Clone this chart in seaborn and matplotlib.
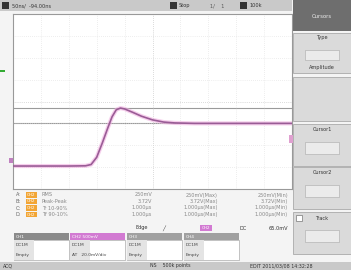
import matplotlib
matplotlib.use('Agg')
import matplotlib.pyplot as plt
import seaborn as sns
import pandas as pd
from matplotlib.patches import Rectangle

# trace (time in div, level in div from bottom)
t_div = [0, 1, 2, 2.6, 2.8, 3.0, 3.2, 3.4, 3.55, 3.7, 3.85, 4.0, 4.3, 4.6, 5.0, 5.4, 5.8, 6.5, 8, 10]
v_div = [1.05, 1.05, 1.05, 1.06, 1.12, 1.45, 2.1, 2.8, 3.3, 3.62, 3.7, 3.66, 3.5, 3.33, 3.16, 3.06, 3.02, 3.0, 3.0, 3.0]
cursor_levels = [3.7, 3.0]

meas_ids = ['A:', 'B:', 'C:', 'D:']
meas_names = ['RMS', 'Peak-Peak', 'Tr 10-90%', 'Tf 90-10%']
meas_vals = ['250mV', '3.72V', '1.000μs', '1.000μs']
meas_max = ['250mV(Max)', '3.72V(Max)', '1.000μs(Max)', '1.000μs(Max)']
meas_min = ['250mV(Min)', '3.72V(Min)', '1.000μs(Min)', '1.000μs(Min)']

ch_headers = ['CH1', 'CH2 500mV', 'CH3', 'CH4']
ch_colors = ['#8a8a8a', '#d27ad2', '#a0a0a0', '#a0a0a0']
ch_line1 = ['DC1M', 'DC1M', 'DC1M', 'DC1M']
ch_line2 = ['Empty', 'AT   20.0mV/div', 'Empty', 'Empty']

panel_titles = ['Type', '', 'Cursor1', 'Cursor2', 'Track']

W, H = 351, 270
fig = plt.figure(figsize=(W / 100, H / 100), dpi=100)
fig.patch.set_facecolor('#f4f4f4')


def box(x, y, w, h, fc, ec='none', lw=0.6):
    fig.add_artist(Rectangle((x / W, 1 - (y + h) / H), w / W, h / H, transform=fig.transFigure,
                             facecolor=fc, edgecolor=ec, linewidth=lw))


def txt(x, y, s, size=3.6, color='#555555', **kw):
    fig.text(x / W, 1 - y / H, s, fontsize=size, color=color, va='center', **kw)


# top status bar
box(0, 0, 292, 11, '#c9c9c9')
box(2, 2, 7, 7, '#333333')
txt(12, 5.5, '50ns/  -94.00ns', color='#333333')
box(170, 2, 7, 7, '#333333')
txt(179, 5.5, 'Stop', color='#333333')
txt(210, 5.5, '1/    1', color='#555555')
box(240, 2, 7, 7, '#333333')
txt(249, 5.5, '100k', color='#333333')

# right side menu
box(293, 0, 58, 31, '#6e6e6e')
txt(322, 16, 'Cursors', color='#eeeeee', ha='center', size=3.8)
box(293, 33, 58, 40, '#dadada', '#aaaaaa')
txt(322, 38, 'Type', color='#333333', ha='center')
txt(322, 68, 'Amplitude', color='#333333', ha='center')
box(305, 50, 34, 10, '#ebebeb', '#aaaaaa', 0.4)
box(293, 77, 58, 44, '#dadada', '#aaaaaa')
for i, y0 in enumerate([124, 167, 212]):
    box(293, y0, 58, 42, '#dadada', '#aaaaaa')
    txt(322, y0 + 6, panel_titles[i + 2], color='#333333', ha='center')
    box(305, y0 + 18, 34, 12, '#ebebeb', '#aaaaaa', 0.4)
box(296, 215, 6, 6, '#ffffff', '#777777', 0.5)

# waveform area
ax = fig.add_axes([13 / W, 1 - 189 / H, 279 / W, 175 / H])
ax.set_facecolor('#ffffff')
df = pd.DataFrame({'t': t_div, 'v': v_div})
for lv in cursor_levels:
    ax.axhline(lv, color='#9a9a9a', lw=0.8, zorder=1)
sns.lineplot(data=df, x='t', y='v', ax=ax, color='#f0b0e0', lw=3.0, alpha=0.6, zorder=2)
sns.lineplot(data=df, x='t', y='v', ax=ax, color='#9a5c96', lw=1.2, zorder=3)
ax.set_xlim(0, 10)
ax.set_ylim(0, 8)
ax.set_xticks(range(1, 10))
ax.set_yticks(range(1, 8))
ax.grid(True, color='#dddddd', lw=0.5, ls=(0, (1, 2)))
ax.tick_params(length=0, labelbottom=False, labelleft=False)
ax.set_xlabel('')
ax.set_ylabel('')
for s in ax.spines.values():
    s.set_color('#999999')
    s.set_linewidth(0.8)
ax.axvline(5, color='#cccccc', lw=0.5, ls=(0, (1, 2)))
ax.axhline(4, color='#cccccc', lw=0.5, ls=(0, (1, 2)))

# markers at edges
box(0, 70, 5, 1.5, '#33aa33')
box(9, 158, 4, 5, '#c080c0')
box(289, 135, 4, 8, '#e0a0d0')

# measurement table
for i in range(4):
    y = 195 + i * 6.5
    txt(16, y, meas_ids[i], color='#666666')
    box(26, y - 2.6, 11, 5.2, '#f2a534')
    txt(27, y, 'CH2', size=3.0, color='#ffffff')
    txt(42, y, meas_names[i], color='#888888')
    txt(152, y, meas_vals[i], color='#888888', ha='right')
    txt(218, y, meas_max[i], color='#888888', ha='right')
    txt(288, y, meas_min[i], color='#888888', ha='right')

# trigger line
txt(148, 228, 'Edge', color='#333333', ha='right')
txt(162, 228, '╱', color='#333333')
box(200, 225, 12, 6, '#d27ad2')
txt(206, 228, 'CH2', size=3.0, color='#ffffff', ha='center')
txt(240, 228, 'DC', color='#333333')
txt(288, 228, '65.0mV', color='#333333', ha='right')

# channel boxes
xs = [14, 70, 127, 184]
for i in range(4):
    x0 = xs[i]
    box(x0, 233, 55, 7, ch_colors[i])
    txt(x0 + 2, 236.5, ch_headers[i], size=3.2, color='#ffffff')
    box(x0, 240, 55, 20, '#ffffff', '#999999', 0.4)
    box(x0, 240, 20, 20, '#e4e4e4')
    txt(x0 + 2, 245, ch_line1[i], size=3.2, color='#444444')
    txt(x0 + 2, 255, ch_line2[i], size=3.2, color='#444444')

# bottom status bar
box(0, 262, 351, 8, '#c9c9c9')
txt(3, 266, 'ACQ', color='#333333', size=3.4)
txt(150, 266, 'NS    500k points', color='#333333', size=3.4)
txt(250, 266, 'EDIT 2011/03/08 14:32:28', color='#333333', size=3.4)

fig.savefig('out.png', dpi=100, facecolor=fig.get_facecolor())
